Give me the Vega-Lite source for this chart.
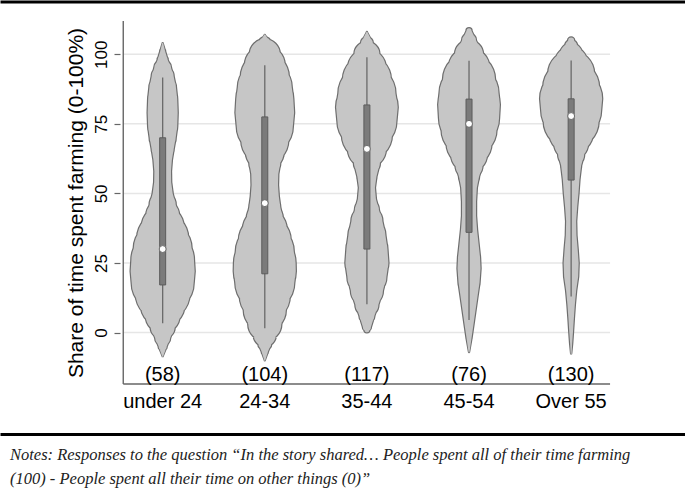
{
  "$schema": "https://vega.github.io/schema/vega-lite/v6.json",
  "width": 565,
  "height": 434,
  "autosize": {"type": "none"},
  "padding": {"left": 120, "top": 0, "right": 0, "bottom": 58},
  "background": "white",
  "config": {"view": {"stroke": null}, "font": "Liberation Sans"},
  "title": {
    "text": ["Notes: Responses to the question \u201cIn the story shared\u2026 People spent all of their time farming", "(100) - People spent all their time on other things (0)\u201d"],
    "orient": "bottom",
    "anchor": "start",
    "frame": "group",
    "font": "Liberation Serif",
    "fontStyle": "italic",
    "fontWeight": "normal",
    "fontSize": 16.5,
    "lineHeight": 24,
    "color": "#222222",
    "dx": -110,
    "offset": 13
  },
  "datasets": {
    "grid": [{"t": 0}, {"t": 25}, {"t": 50}, {"t": 75}, {"t": 100}],
    "box": [
      {"g": 1, "n": "(58)", "label": "under 24", "lo": 3.3, "q1": 17.1, "med": 30.0, "q3": 70.0, "hi": 91.7},
      {"g": 2, "n": "(104)", "label": "24-34", "lo": 1.5, "q1": 21.1, "med": 46.5, "q3": 77.5, "hi": 96.1},
      {"g": 3, "n": "(117)", "label": "35-44", "lo": 10.2, "q1": 30.0, "med": 66.0, "q3": 81.8, "hi": 98.9},
      {"g": 4, "n": "(76)", "label": "45-54", "lo": 4.5, "q1": 36.0, "med": 75.0, "q3": 83.9, "hi": 97.7},
      {"g": 5, "n": "(130)", "label": "Over 55", "lo": 12.9, "q1": 54.8, "med": 77.8, "q3": 84.0, "hi": 97.8}
    ],
    "violin": [
      {"g": 1, "v": 104, "d": 0}, {"g": 1, "v": 101, "d": 2.5}, {"g": 1, "v": 98, "d": 5}, {"g": 1, "v": 95, "d": 8.5}, {"g": 1, "v": 92, "d": 11}, {"g": 1, "v": 88, "d": 13.3}, {"g": 1, "v": 84, "d": 14.5}, {"g": 1, "v": 79, "d": 15}, {"g": 1, "v": 74, "d": 14.5}, {"g": 1, "v": 70, "d": 13}, {"g": 1, "v": 66, "d": 11}, {"g": 1, "v": 62, "d": 9.2}, {"g": 1, "v": 58, "d": 8.3}, {"g": 1, "v": 54, "d": 8.5}, {"g": 1, "v": 50, "d": 10}, {"g": 1, "v": 46, "d": 13}, {"g": 1, "v": 42, "d": 16.5}, {"g": 1, "v": 38, "d": 21}, {"g": 1, "v": 34, "d": 25.5}, {"g": 1, "v": 30, "d": 29}, {"g": 1, "v": 26, "d": 31.3}, {"g": 1, "v": 22, "d": 32}, {"g": 1, "v": 18, "d": 31}, {"g": 1, "v": 14, "d": 27}, {"g": 1, "v": 10, "d": 22}, {"g": 1, "v": 6, "d": 17}, {"g": 1, "v": 2, "d": 12}, {"g": 1, "v": -2, "d": 7.5}, {"g": 1, "v": -5, "d": 4}, {"g": 1, "v": -8.5, "d": 0},
      {"g": 2, "v": 107, "d": 0}, {"g": 2, "v": 104, "d": 6}, {"g": 2, "v": 100, "d": 15}, {"g": 2, "v": 96, "d": 20}, {"g": 2, "v": 92, "d": 24}, {"g": 2, "v": 88, "d": 27}, {"g": 2, "v": 84, "d": 28.5}, {"g": 2, "v": 79, "d": 29.3}, {"g": 2, "v": 74, "d": 28}, {"g": 2, "v": 69, "d": 23.5}, {"g": 2, "v": 65, "d": 19}, {"g": 2, "v": 61, "d": 15.5}, {"g": 2, "v": 57, "d": 13.5}, {"g": 2, "v": 53, "d": 13.2}, {"g": 2, "v": 49, "d": 14}, {"g": 2, "v": 45, "d": 15.5}, {"g": 2, "v": 41, "d": 18}, {"g": 2, "v": 37, "d": 22}, {"g": 2, "v": 33, "d": 26}, {"g": 2, "v": 29, "d": 29}, {"g": 2, "v": 25, "d": 30.8}, {"g": 2, "v": 22, "d": 31}, {"g": 2, "v": 18, "d": 29.5}, {"g": 2, "v": 13, "d": 25}, {"g": 2, "v": 8, "d": 21}, {"g": 2, "v": 3, "d": 16.5}, {"g": 2, "v": -1, "d": 11}, {"g": 2, "v": -4, "d": 6.5}, {"g": 2, "v": -7, "d": 3}, {"g": 2, "v": -10, "d": 0},
      {"g": 3, "v": 108, "d": 0}, {"g": 3, "v": 104, "d": 6}, {"g": 3, "v": 100, "d": 12.5}, {"g": 3, "v": 95, "d": 19}, {"g": 3, "v": 91, "d": 24}, {"g": 3, "v": 86, "d": 28.5}, {"g": 3, "v": 81, "d": 30.8}, {"g": 3, "v": 76, "d": 29.5}, {"g": 3, "v": 71, "d": 25}, {"g": 3, "v": 66, "d": 19}, {"g": 3, "v": 61, "d": 13}, {"g": 3, "v": 56, "d": 9.5}, {"g": 3, "v": 52, "d": 8}, {"g": 3, "v": 48, "d": 9}, {"g": 3, "v": 44, "d": 12}, {"g": 3, "v": 40, "d": 15.5}, {"g": 3, "v": 35, "d": 18.5}, {"g": 3, "v": 30, "d": 20.5}, {"g": 3, "v": 25, "d": 21.5}, {"g": 3, "v": 20, "d": 19.5}, {"g": 3, "v": 15, "d": 16}, {"g": 3, "v": 10, "d": 11.5}, {"g": 3, "v": 6, "d": 7.5}, {"g": 3, "v": 2, "d": 4}, {"g": 3, "v": 1, "d": 2.5}, {"g": 3, "v": 0.2, "d": 0},
      {"g": 4, "v": 108.7, "d": 0}, {"g": 4, "v": 108.5, "d": 2.5}, {"g": 4, "v": 105, "d": 7}, {"g": 4, "v": 100, "d": 14}, {"g": 4, "v": 95, "d": 20.5}, {"g": 4, "v": 91, "d": 26}, {"g": 4, "v": 86, "d": 29.5}, {"g": 4, "v": 82, "d": 30.8}, {"g": 4, "v": 77, "d": 30}, {"g": 4, "v": 73, "d": 27.5}, {"g": 4, "v": 68, "d": 22.5}, {"g": 4, "v": 64, "d": 18}, {"g": 4, "v": 60, "d": 13.5}, {"g": 4, "v": 56, "d": 10}, {"g": 4, "v": 52, "d": 7.8}, {"g": 4, "v": 47, "d": 7}, {"g": 4, "v": 42, "d": 7}, {"g": 4, "v": 37, "d": 8}, {"g": 4, "v": 32, "d": 9.5}, {"g": 4, "v": 27, "d": 11}, {"g": 4, "v": 23, "d": 11.5}, {"g": 4, "v": 18, "d": 10.5}, {"g": 4, "v": 13, "d": 8.5}, {"g": 4, "v": 8, "d": 6.5}, {"g": 4, "v": 3, "d": 4.5}, {"g": 4, "v": -2, "d": 2.5}, {"g": 4, "v": -7, "d": 0},
      {"g": 5, "v": 105.2, "d": 0}, {"g": 5, "v": 105, "d": 3}, {"g": 5, "v": 103, "d": 6}, {"g": 5, "v": 100, "d": 11}, {"g": 5, "v": 97, "d": 16}, {"g": 5, "v": 93, "d": 23}, {"g": 5, "v": 88, "d": 28}, {"g": 5, "v": 84, "d": 31}, {"g": 5, "v": 80, "d": 30}, {"g": 5, "v": 76, "d": 27.5}, {"g": 5, "v": 72, "d": 22}, {"g": 5, "v": 68, "d": 17}, {"g": 5, "v": 64, "d": 13}, {"g": 5, "v": 60, "d": 10}, {"g": 5, "v": 55, "d": 8.3}, {"g": 5, "v": 50, "d": 7.3}, {"g": 5, "v": 45, "d": 6}, {"g": 5, "v": 40, "d": 5}, {"g": 5, "v": 35, "d": 5.3}, {"g": 5, "v": 30, "d": 6.5}, {"g": 5, "v": 25, "d": 7.5}, {"g": 5, "v": 20, "d": 7}, {"g": 5, "v": 15, "d": 5}, {"g": 5, "v": 10, "d": 3.7}, {"g": 5, "v": 5, "d": 2.7}, {"g": 5, "v": 0, "d": 1.8}, {"g": 5, "v": -4, "d": 1}, {"g": 5, "v": -7.5, "d": 0}
    ]
  },
  "resolve": {"axis": {"x": "independent", "y": "independent"}, "scale": {"size": "independent"}},
  "layer": [
    {
      "data": {"name": "grid"},
      "mark": {"type": "rule", "color": "#e6e6e6", "strokeWidth": 1.5},
      "encoding": {
        "x": {"datum": 0.614, "type": "quantitative",
          "scale": {"domain": [-0.544, 6.066], "range": [-120, 565], "zero": false, "nice": false},
          "axis": {"orient": "top", "offset": -1.5, "domain": true, "domainColor": "black", "domainWidth": 3, "ticks": false, "labels": false, "grid": false, "title": null}},
        "x2": {"datum": 5.381},
        "y": {"field": "t", "type": "quantitative",
          "scale": {"domain": [-36.48, 119.52], "zero": false, "nice": false},
          "axis": {"orient": "left", "values": [0, 25, 50, 75, 100], "domain": false, "grid": false, "offset": 0,
            "ticks": true, "tickSize": 6, "tickColor": "#666666", "tickWidth": 1.2,
            "labels": true, "labelOverlap": false, "labelAngle": -90, "labelAlign": "center", "labelBaseline": "alphabetic", "labelPadding": 8,
            "labelFontSize": 17, "labelColor": "black", "labelFont": "Liberation Sans",
            "title": "Share of time spent farming (0-100%)", "titleFont": "Liberation Sans", "titleFontSize": 21, "titleFontWeight": "normal", "titleColor": "black",
            "titleAngle": 270, "titleAlign": "center", "titleBaseline": "alphabetic", "titleX": -37.7, "titleY": 202.5}}
      }
    },
    {
      "data": {"values": [{}]},
      "mark": {"type": "rule", "color": "#666666", "strokeWidth": 1.4},
      "encoding": {
        "x": {"datum": 0.614, "type": "quantitative", "axis": null},
        "y": {"datum": -18.5, "type": "quantitative", "axis": null},
        "y2": {"datum": 112}
      }
    },
    {
      "data": {"values": [{}]},
      "mark": {"type": "rule", "color": "#666666", "strokeWidth": 1.4},
      "encoding": {
        "x": {"datum": 0.614, "type": "quantitative", "axis": null},
        "x2": {"datum": 5.381},
        "y": {"datum": -18.5, "type": "quantitative", "axis": null}
      }
    },
    {
      "data": {"name": "violin"},
      "mark": {"type": "trail", "color": "#6e6e6e"},
      "encoding": {
        "x": {"field": "g", "type": "quantitative",
          "axis": {"orient": "bottom", "offset": 0, "domain": true, "domainColor": "black", "domainWidth": 3, "ticks": false, "labels": false, "grid": false, "title": null}},
        "y": {"field": "v", "type": "quantitative", "axis": null},
        "size": {"field": "d", "type": "quantitative", "scale": {"domain": [0, 32], "range": [2.4, 66.4], "zero": true, "nice": false}, "legend": null},
        "detail": {"field": "g"},
        "order": {"field": "v", "type": "quantitative"}
      }
    },
    {
      "data": {"name": "violin"},
      "mark": {"type": "trail", "color": "#c6c6c6"},
      "encoding": {
        "x": {"field": "g", "type": "quantitative", "axis": null},
        "y": {"field": "v", "type": "quantitative", "axis": null},
        "size": {"field": "d", "type": "quantitative", "scale": {"domain": [0, 32], "range": [0, 64], "zero": true, "nice": false}, "legend": null},
        "detail": {"field": "g"},
        "order": {"field": "v", "type": "quantitative"}
      }
    },
    {
      "data": {"name": "box"},
      "mark": {"type": "rule", "color": "#6a6a6a", "strokeWidth": 1.3},
      "encoding": {
        "x": {"field": "g", "type": "quantitative", "axis": null},
        "y": {"field": "lo", "type": "quantitative", "axis": null},
        "y2": {"field": "hi"}
      }
    },
    {
      "data": {"name": "box"},
      "mark": {"type": "bar", "width": 6, "fill": "#7b7b7b", "stroke": "#5c5c5c", "strokeWidth": 1},
      "encoding": {
        "x": {"field": "g", "type": "quantitative", "axis": null},
        "y": {"field": "q1", "type": "quantitative", "axis": null},
        "y2": {"field": "q3"}
      }
    },
    {
      "data": {"name": "box"},
      "mark": {"type": "point", "filled": true, "fill": "white", "stroke": "#6a6a6a", "strokeWidth": 1, "size": 48, "opacity": 1},
      "encoding": {
        "x": {"field": "g", "type": "quantitative", "axis": null},
        "y": {"field": "med", "type": "quantitative", "axis": null}
      }
    },
    {
      "data": {"name": "box"},
      "mark": {"type": "text", "fontSize": 20, "align": "center", "baseline": "alphabetic", "color": "black", "font": "Liberation Sans"},
      "encoding": {
        "x": {"field": "g", "type": "quantitative", "axis": null},
        "y": {"datum": -17.4, "type": "quantitative", "axis": null},
        "text": {"field": "n"}
      }
    },
    {
      "data": {"name": "box"},
      "mark": {"type": "text", "fontSize": 20, "align": "center", "baseline": "alphabetic", "color": "black", "font": "Liberation Sans"},
      "encoding": {
        "x": {"field": "g", "type": "quantitative", "axis": null},
        "y": {"datum": -27.0, "type": "quantitative", "axis": null},
        "text": {"field": "label"}
      }
    }
  ]
}
